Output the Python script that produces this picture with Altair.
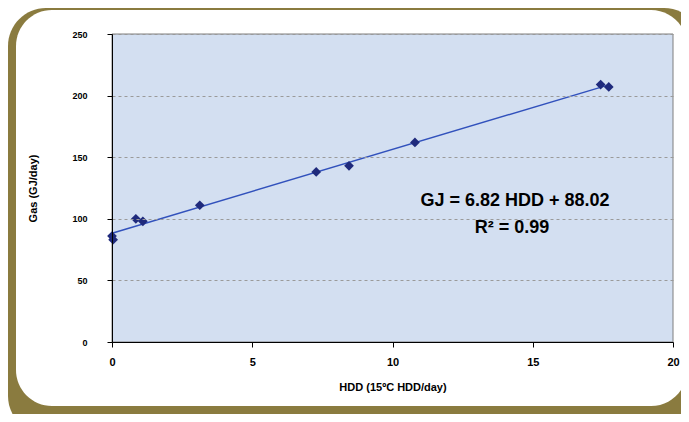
import altair as alt
import pandas as pd

# Data
hdd = [0.0, 0.04, 0.85, 1.1, 3.13, 7.28, 8.45, 10.8, 17.42, 17.71]
gas = [86, 83, 100, 98, 111, 138, 143, 162, 209, 207]
x_ticks = [0, 5, 10, 15, 20]
y_ticks = [0, 50, 100, 150, 200, 250]
equation = "GJ = 6.82 HDD + 88.02"
r2_text = "R² = 0.99"

df = pd.DataFrame({"hdd": hdd, "gas": gas})

W, H = 561, 308
OLIVE = "#8A7B3F"
BLUE_BG = "#D3DFF1"
NAVY = "#1F2A7C"
LINE = "#3151BC"
FONT = "Liberation Sans"

one = alt.Data(values=[{"k": 1}])

olive = alt.Chart(one).mark_rect(color=OLIVE, cornerRadius=38).encode(
    x=alt.value(-104), x2=alt.value(590), y=alt.value(-26), y2=alt.value(400)
)
white = alt.Chart(one).mark_rect(color="white", cornerRadius=36).encode(
    x=alt.value(-96), x2=alt.value(575), y=alt.value(-24), y2=alt.value(372)
)
plot_bg = alt.Chart(one).mark_rect(color=BLUE_BG, stroke="#7F7F7F", strokeWidth=1).encode(
    x=alt.value(0), x2=alt.value(W), y=alt.value(0), y2=alt.value(H)
)

xscale = alt.Scale(domain=[0, 20], nice=False, zero=False)
yscale = alt.Scale(domain=[0, 250], nice=False)

xaxis = alt.Axis(
    values=x_ticks, title="HDD (15ºC HDD/day)", grid=False, zindex=1,
    domainColor="black", tickColor="black", tickSize=5, labelFlush=False,
    labelFont=FONT, labelFontSize=11, labelFontWeight="bold", labelColor="black",
    labelPadding=9, titleFont=FONT, titleFontSize=11, titleFontWeight="bold",
    titleColor="black", titlePadding=14,
)
yaxis = alt.Axis(
    values=y_ticks, title="Gas (GJ/day)", grid=True, zindex=1,
    gridColor="#9A9A9A", gridDash=[3, 3], gridWidth=1,
    domainColor="black", tickColor="black", tickSize=5, labelFlush=False,
    labelFont=FONT, labelFontSize=9, labelFontWeight="bold", labelColor="black",
    labelPadding=20, titleFont=FONT, titleFontSize=11, titleFontWeight="bold",
    titleColor="black", titlePadding=33,
)

points = alt.Chart(df).mark_point(
    shape="diamond", filled=True, color=NAVY, size=95, opacity=1
).encode(
    x=alt.X("hdd:Q", scale=xscale, axis=xaxis),
    y=alt.Y("gas:Q", scale=yscale, axis=yaxis),
)

trend = alt.Chart(df).transform_regression("hdd", "gas").mark_line(
    color=LINE, strokeWidth=1.4
).encode(
    x=alt.X("hdd:Q", scale=xscale, axis=xaxis),
    y=alt.Y("gas:Q", scale=yscale, axis=yaxis),
)

eq = alt.Chart(one).mark_text(
    text=equation, font=FONT, fontSize=18, fontWeight="bold", color="black",
    align="center", baseline="alphabetic"
).encode(x=alt.value(403), y=alt.value(172))

r2 = alt.Chart(one).mark_text(
    text=r2_text, font=FONT, fontSize=18, fontWeight="bold", color="black",
    align="center", baseline="alphabetic"
).encode(x=alt.value(400), y=alt.value(199))

chart = alt.layer(olive, white, plot_bg, trend, points, eq, r2).properties(
    width=W, height=H,
    autosize=alt.AutoSizeParams(type="none"),
    padding={"left": 104, "top": 26, "right": 8, "bottom": 72},
    background="white",
).configure_view(stroke=None)

chart.save("out.html", embed_options={"renderer": "svg", "actions": False})
